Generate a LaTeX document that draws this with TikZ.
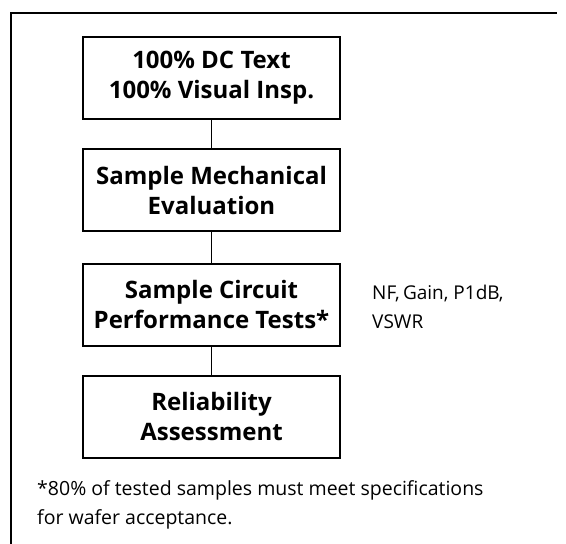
\documentclass[tikz,border=0pt]{standalone}
\usepackage{fontspec}
\setmainfont{Open Sans}
\begin{document}
\begin{tikzpicture}[x=1pt,y=-1pt,
  stagebox/.style={draw=black,line width=2pt,minimum width=257pt,minimum height=82pt,
    align=center,inner sep=0pt,font=\bfseries\fontsize{24}{30}\selectfont},
  link/.style={draw=black,line width=1.6pt},
  note/.style={align=left,inner sep=0pt,font=\fontsize{19.5}{29}\selectfont}]
\useasboundingbox (0,0) rectangle (566,544);
\draw[line width=2pt] (11,560) -- (11,12.5) -- (557,12.5);
\node[stagebox] (b1) at (211.5,78) {100\% DC Text\\100\% Visual Insp.};
\node[stagebox] (b2) at (211.5,190) {Sample Mechanical\\Evaluation};
\node[stagebox] (b3) at (211.5,304.5) {Sample Circuit\\Performance Tests*};
\node[stagebox] (b4) at (211.5,416.5) {Reliability\\Assessment};
\draw[link] (b1) -- (b2);
\draw[link] (b2) -- (b3);
\draw[link] (b3) -- (b4);
\node[note,anchor=west,font=\fontsize{19}{29}\selectfont] (n1) at (372,307) {NF,\,Gain, P1dB,\\VSWR};
\node[note,anchor=north west] (n2) at (37,480) {*80\% of tested samples must meet specifications\\for wafer acceptance.};
\end{tikzpicture}
\end{document}
